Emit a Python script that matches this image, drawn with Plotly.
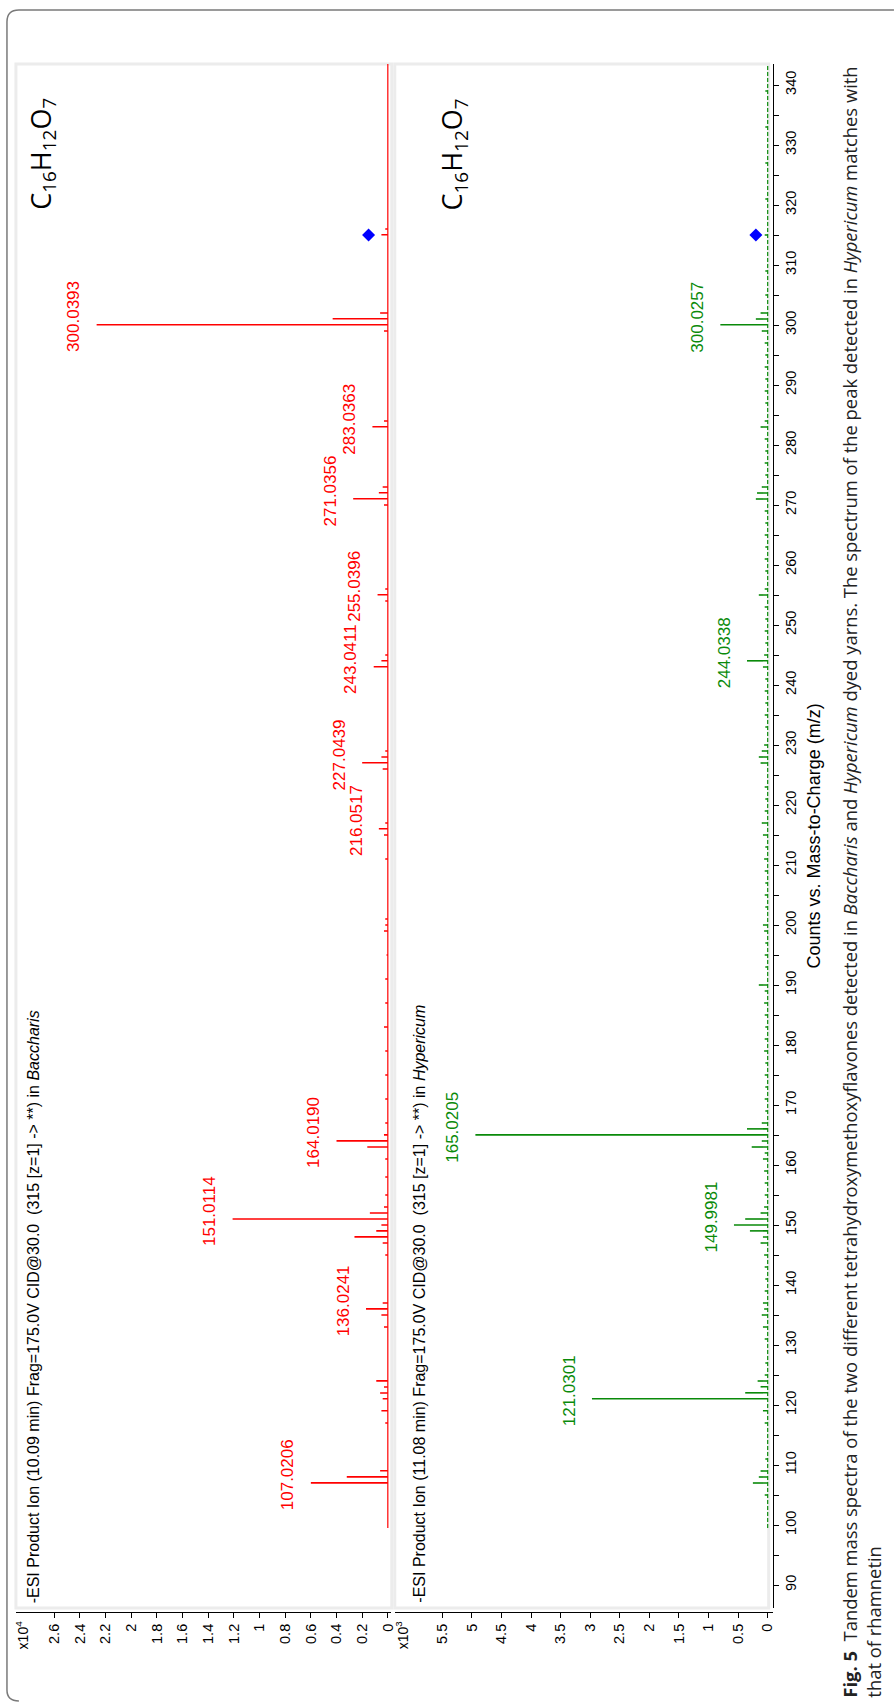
import plotly.graph_objects as go

W, H = 894, 1702

# ---------------- data ----------------
# Baccharis spectrum: m/z and counts (x10^4)
bac_mz = [107.02, 108.02, 109.03, 117.0, 119.05, 121.03, 122.0, 123.0, 124.02,
          133.0, 135.0, 136.02, 137.0, 145.0, 147.0, 148.02, 149.02, 150.0, 151.01,
          152.01, 153.0, 155.0, 158.0, 161.0, 163.0, 164.02, 165.02, 167.0, 171.0,
          175.0, 179.0, 183.0, 187.0, 191.0, 195.0, 199.0, 200.0, 201.0, 211.0,
          215.0, 216.05, 217.0, 226.0, 227.04, 228.0, 229.0, 243.04, 244.05, 245.0,
          254.0, 255.04, 256.0, 270.0, 271.04, 272.04, 273.0, 283.04, 284.0, 299.0,
          300.04, 301.04, 302.0, 315.05, 316.0]
bac_int = [0.60, 0.32, 0.06, 0.02, 0.05, 0.04, 0.06, 0.03, 0.09,
           0.03, 0.05, 0.17, 0.04, 0.02, 0.04, 0.26, 0.09, 0.05, 1.21,
           0.14, 0.03, 0.02, 0.02, 0.02, 0.16, 0.40, 0.03, 0.02, 0.02,
           0.02, 0.02, 0.03, 0.02, 0.02, 0.01, 0.03, 0.02, 0.02, 0.02,
           0.03, 0.07, 0.02, 0.04, 0.20, 0.05, 0.02, 0.11, 0.05, 0.02,
           0.02, 0.08, 0.02, 0.03, 0.27, 0.07, 0.04, 0.12, 0.03, 0.03,
           2.27, 0.43, 0.06, 0.05, 0.02]
bac_label_mz = [107.0206, 136.0241, 151.0114, 164.0190, 216.0517, 227.0439,
                243.0411, 255.0396, 271.0356, 283.0363, 300.0393]
bac_label_int = [0.60, 0.17, 1.21, 0.40, 0.07, 0.20, 0.11, 0.08, 0.27, 0.12, 2.27]
bac_prec_mz, bac_prec_int = [315.0], [0.15]

# Hypericum spectrum: m/z and counts (x10^3)
hyp_mz = [105.0, 107.0, 108.0, 109.0, 111.0, 117.0, 119.05, 121.03, 122.03, 123.04,
          124.0, 125.0, 127.0, 131.0, 133.0, 135.0, 136.0, 137.0, 139.0, 141.0,
          143.0, 145.0, 147.0, 148.0, 149.02, 150.0, 151.0, 152.0, 153.0, 155.0,
          157.0, 159.0, 161.0, 162.0, 163.0, 164.0, 165.02, 166.02, 167.0, 169.0,
          171.0, 173.0, 175.0, 177.0, 179.0, 181.0, 183.0, 185.0, 187.0, 189.0,
          190.0, 193.0, 195.0, 197.0, 199.0, 200.0, 203.0, 205.0, 207.0, 209.0,
          211.0, 213.0, 215.0, 217.0, 219.0, 221.0, 223.0, 227.0, 228.0, 229.0,
          230.0, 233.0, 235.0, 237.0, 239.0, 241.0, 243.0, 244.03, 245.0, 247.0,
          249.0, 251.0, 253.0, 255.0, 256.0, 259.0, 261.0, 263.0, 265.0, 267.0,
          269.0, 271.0, 272.0, 273.0, 275.0, 277.0, 279.0, 281.0, 283.0, 284.0,
          287.0, 289.0, 291.0, 293.0, 295.0, 297.0, 299.0, 300.03, 301.0, 302.0,
          305.0, 309.0, 315.0, 321.0, 327.0, 333.0, 339.0]
hyp_int = [0.05, 0.25, 0.15, 0.12, 0.04, 0.05, 0.08, 2.97, 0.38, 0.12,
           0.17, 0.05, 0.04, 0.05, 0.08, 0.10, 0.06, 0.08, 0.05, 0.04,
           0.05, 0.06, 0.12, 0.08, 0.30, 0.57, 0.38, 0.12, 0.06, 0.05,
           0.05, 0.06, 0.08, 0.05, 0.27, 0.10, 4.94, 0.35, 0.10, 0.04,
           0.05, 0.04, 0.05, 0.04, 0.06, 0.05, 0.04, 0.05, 0.06, 0.05,
           0.15, 0.04, 0.05, 0.04, 0.06, 0.08, 0.04, 0.05, 0.04, 0.05,
           0.06, 0.04, 0.08, 0.10, 0.05, 0.04, 0.05, 0.12, 0.15, 0.10,
           0.06, 0.04, 0.05, 0.04, 0.05, 0.04, 0.08, 0.35, 0.06, 0.04,
           0.05, 0.04, 0.05, 0.15, 0.05, 0.04, 0.05, 0.04, 0.05, 0.04,
           0.05, 0.20, 0.18, 0.10, 0.04, 0.05, 0.04, 0.05, 0.12, 0.05,
           0.04, 0.05, 0.04, 0.05, 0.04, 0.05, 0.10, 0.80, 0.20, 0.12,
           0.04, 0.04, 0.05, 0.04, 0.04, 0.04, 0.04]
hyp_label_mz = [121.0301, 149.9981, 165.0205, 244.0338, 300.0257]
hyp_label_int = [2.97, 0.57, 4.94, 0.35, 0.80]
hyp_prec_mz, hyp_prec_int = [315.0], [0.20]

bac_ticks = [0, 0.2, 0.4, 0.6, 0.8, 1, 1.2, 1.4, 1.6, 1.8, 2, 2.2, 2.4, 2.6]
hyp_ticks = [0, 0.5, 1, 1.5, 2, 2.5, 3, 3.5, 4, 4.5, 5, 5.5]
mz_ticks = list(range(90, 341, 10))

header_bac = "-ESI Product Ion (10.09 min) Frag=175.0V CID@30.0  (315 [z=1] -> **) in <i>Baccharis</i>"
header_hyp = "-ESI Product Ion (11.08 min) Frag=175.0V CID@30.0  (315 [z=1] -> **) in <i>Hypericum</i>"
formula = "C<sub>16</sub>H<sub>12</sub>O<sub>7</sub>"
caption = ("<b>Fig. 5</b>  Tandem mass spectra of the two different tetrahydroxymethoxyflavones detected in "
           "<i>Baccharis</i> and <i>Hypericum</i> dyed yarns. The spectrum of the peak detected in "
           "<i>Hypericum</i> matches with<br>that of rhamnetin")

# ---------------- layout helpers ----------------
def px(x):
    return x / W

def py(y):
    return 1 - y / H

RED = "#ff0000"
GREEN = "#0a8a0a"
ARIAL = "Liberation Sans, Arial, sans-serif"

frame_top, frame_bot = 64, 1608
mz_lo = 120 - (frame_bot - 1405) / 6.0
mz_hi = 120 + (1405 - frame_top) / 6.0

p1_l, p1_r, p1_zero, p1_scale = 16, 393, 390, 129.0
p2_l, p2_r, p2_zero, p2_scale = 397, 777, 772, 59.5


def sticks(mz, inten):
    xs, ys = [], []
    for m, v in zip(mz, inten):
        xs += [0, v, None]
        ys += [m, m, None]
    return xs, ys


fig = go.Figure()

for (mz, inten, col, xa, ya, pm, pi, dash) in [
    (bac_mz, bac_int, RED, "x", "y", bac_prec_mz, bac_prec_int, "solid"),
    (hyp_mz, hyp_int, GREEN, "x2", "y2", hyp_prec_mz, hyp_prec_int, "4px,2px"),
]:
    fig.add_trace(go.Scatter(x=[0, 0], y=[99.5, mz_hi], mode="lines",
                             line=dict(color=col, width=1.2, dash=dash), xaxis=xa, yaxis=ya,
                             hoverinfo="skip", showlegend=False))
    xs, ys = sticks(mz, inten)
    fig.add_trace(go.Scatter(x=xs, y=ys, mode="lines",
                             line=dict(color=col, width=1.6), xaxis=xa, yaxis=ya,
                             showlegend=False))
    fig.add_trace(go.Scatter(x=pi, y=pm, mode="markers",
                             marker=dict(symbol="diamond", color="#0000ff", size=10),
                             xaxis=xa, yaxis=ya, showlegend=False))

annotations = []
for lm, li in zip(bac_label_mz, bac_label_int):
    annotations.append(dict(x=li, y=lm, xref="x", yref="y", text=f"{lm:.4f}",
                            textangle=-90, showarrow=False, xanchor="right",
                            yanchor="middle", xshift=-11, yshift=8,
                            font=dict(family=ARIAL, size=17, color=RED)))
for lm, li in zip(hyp_label_mz, hyp_label_int):
    annotations.append(dict(x=li, y=lm, xref="x2", yref="y2", text=f"{lm:.4f}",
                            textangle=-90, showarrow=False, xanchor="right",
                            yanchor="middle", xshift=-11, yshift=8,
                            font=dict(family=ARIAL, size=17, color=GREEN)))

# headers
annotations.append(dict(x=px(34), y=py(1605), xref="paper", yref="paper",
                        text=header_bac, textangle=-90, showarrow=False,
                        xanchor="center", yanchor="bottom",
                        font=dict(family=ARIAL, size=16, color="black")))
annotations.append(dict(x=px(421), y=py(1605), xref="paper", yref="paper",
                        text=header_hyp, textangle=-90, showarrow=False,
                        xanchor="center", yanchor="bottom",
                        font=dict(family=ARIAL, size=16, color="black")))
# formulas
for fx in (42, 456):
    annotations.append(dict(x=px(fx), y=py(96), xref="paper", yref="paper",
                            text=formula, textangle=-90, showarrow=False,
                            xanchor="center", yanchor="top",
                            font=dict(family="Open Sans, sans-serif", size=27, color="black")))
# multipliers
annotations.append(dict(x=px(22), y=py(1618), xref="paper", yref="paper",
                        text="x10<sup>4</sup>", textangle=-90, showarrow=False,
                        xanchor="center", yanchor="top",
                        font=dict(family=ARIAL, size=14, color="black")))
annotations.append(dict(x=px(404), y=py(1618), xref="paper", yref="paper",
                        text="x10<sup>3</sup>", textangle=-90, showarrow=False,
                        xanchor="center", yanchor="top",
                        font=dict(family=ARIAL, size=14, color="black")))
# axis title
annotations.append(dict(x=px(819), y=py((frame_top + frame_bot) / 2), xref="paper", yref="paper",
                        text="Counts vs. Mass-to-Charge (m/z)", textangle=-90, showarrow=False,
                        xanchor="center", yanchor="middle",
                        font=dict(family=ARIAL, size=18, color="black")))
# caption
annotations.append(dict(x=px(866), y=py(1700), xref="paper", yref="paper",
                        text=caption, textangle=-90, showarrow=False, align="left",
                        xanchor="center", yanchor="bottom",
                        font=dict(family="Open Sans, sans-serif", size=18.4, color="#222")))

shapes = [
    # outer rounded border (left, top)
    dict(type="path", xref="paper", yref="paper",
         path=f"M {px(W + 5)},{py(10)} L {px(19)},{py(10)} Q {px(7)},{py(10)} {px(7)},{py(22)} "
              f"L {px(7)},{py(1690)} Q {px(7)},{py(1701)} {px(19)},{py(1701)}",
         line=dict(color="#7a7a7a", width=1.5)),
    dict(type="rect", xref="paper", yref="paper", x0=px(p1_l), x1=px(p1_r + 1),
         y0=py(frame_bot), y1=py(frame_top), line=dict(color="#ececec", width=3), layer="below"),
    dict(type="rect", xref="paper", yref="paper", x0=px(p2_l), x1=px(p2_r - 4),
         y0=py(frame_bot), y1=py(frame_top), line=dict(color="#ececec", width=3), layer="below"),
]

tickfont = dict(family=ARIAL, size=14.5, color="black")

fig.update_layout(
    width=W, height=H, margin=dict(l=0, r=0, t=0, b=0),
    paper_bgcolor="white", plot_bgcolor="rgba(0,0,0,0)",
    showlegend=False,
    annotations=annotations, shapes=shapes,
    xaxis=dict(domain=[px(p1_l), px(p1_r)],
               range=[(p1_zero - p1_l) / p1_scale, -(p1_r - p1_zero) / p1_scale],
               anchor="free", position=py(frame_bot + 4), side="bottom",
               tickvals=bac_ticks, ticktext=[f"{t:g}" for t in bac_ticks], tickangle=-90,
               ticks="outside", ticklen=5, tickcolor="black", showline=True, linecolor="black",
               linewidth=1, showgrid=False, zeroline=False, tickfont=tickfont),
    yaxis=dict(domain=[py(frame_bot), py(frame_top)], range=[mz_lo, mz_hi], anchor="x",
               visible=False),
    xaxis2=dict(domain=[px(p2_l), px(p2_r)],
                range=[(p2_zero - p2_l) / p2_scale, -(p2_r - p2_zero) / p2_scale],
                anchor="free", position=py(frame_bot + 4), side="bottom",
                tickvals=hyp_ticks, ticktext=[f"{t:g}" for t in hyp_ticks], tickangle=-90,
                ticks="outside", ticklen=5, tickcolor="black", showline=True, linecolor="black",
                linewidth=1, showgrid=False, zeroline=False, tickfont=tickfont),
    yaxis2=dict(domain=[py(frame_bot), py(frame_top)], range=[mz_lo, mz_hi], anchor="x2",
                side="right", tickvals=mz_ticks, tickangle=-90, ticks="outside", ticklen=5,
                tickcolor="black", showline=True, linecolor="black", linewidth=1.2,
                showgrid=False, zeroline=False,
                minor=dict(dtick=5, tick0=85, ticks="outside", ticklen=5, tickcolor="black"),
                tickfont=dict(family=ARIAL, size=14.5, color="black")),
)

fig.write_html("out.html")
